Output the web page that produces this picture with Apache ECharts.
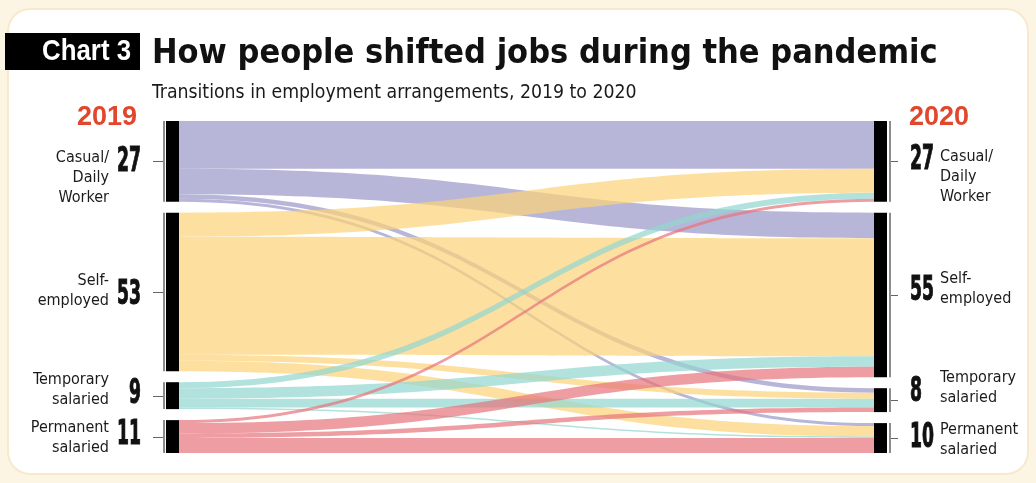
<!DOCTYPE html>
<html><head><meta charset="utf-8">
<script src="https://cdn.jsdelivr.net/npm/echarts@6/dist/echarts.min.js"></script>
<style>html,body{margin:0;padding:0;background:#fdf5e4;}#c{width:1036px;height:483px;}</style>
</head><body><div id="c"></div>
<script>
// ---- data ----
const categories = ['Casual/\nDaily\nWorker', 'Self-\nemployed', 'Temporary\nsalaried', 'Permanent\nsalaried'];
const years = ['2019', '2020'];
const share2019 = [27, 53, 9, 11];
const share2020 = [27, 55, 8, 10];
// flows from each 2019 category to 2020 categories (Casual, Self, Temporary, Permanent)
const fromCasual = [16, 8.5, 1.5, 1];
const fromSelf = [8, 39.5, 2, 3.5];
const fromTemporary = [2, 3.5, 3, 0.5];
const fromPermanent = [1, 3.5, 1.5, 5];
const flowRows = [fromCasual, fromSelf, fromTemporary, fromPermanent];
const flowColors = ['#9a97c7', '#fcd377', '#92d6ce', '#e7737a'];

const COND = '"DejaVu Sans Condensed","DejaVu Sans",sans-serif';
const SANS = '"Liberation Sans","DejaVu Sans",sans-serif';

const nameMap = {};
categories.forEach((c, i) => { nameMap['a' + i] = c; nameMap['b' + i] = c; });

const numOffsetL = [0, 2, -2, -2];
const numOffsetR = [-2, -5, -9, -1];
const nameOffsetL = [[0, 16], [0, -1], [0, -6], [0, 1]];
const nameOffsetR = [[0, 15], [0, -6], [0, -12], [0, 2]];

function makeNodes() {
  const arr = [];
  categories.forEach((c, i) => arr.push({ name: 'a' + i, label: { position: 'left', distance: 54, offset: nameOffsetL[i] } }));
  categories.forEach((c, i) => arr.push({ name: 'b' + i, label: { position: 'right', distance: 49, offset: nameOffsetR[i] } }));
  return arr;
}
function makeLinks(visible) {
  const arr = [];
  flowRows.forEach((row, i) => {
    row.forEach((v, j) => {
      arr.push({ source: 'a' + i, target: 'b' + j, value: v,
        lineStyle: visible ? { color: flowColors[i], opacity: 0.7 } : { color: 'rgba(0,0,0,0)', opacity: 0 } });
    });
  });
  return arr;
}

const chart = echarts.init(document.getElementById('c'), null, { renderer: 'canvas' });

const baseGraphics = [
  { type: 'rect', z: -10, shape: { x: 8, y: 9, width: 1020, height: 465, r: 22 },
    style: { fill: '#ffffff', stroke: '#f8e9cc', lineWidth: 2 } },
  { type: 'rect', shape: { x: 5, y: 33, width: 135, height: 37 }, style: { fill: '#000' } },
  { type: 'text', x: 131, y: 52, scaleX: 0.86, style: { text: 'Chart 3', fill: '#fff', font: 'bold 30px ' + SANS, textAlign: 'right', textVerticalAlign: 'middle' } }
];

const option = {
  animation: false,
  backgroundColor: 'transparent',
  title: [
    { text: 'How people shifted jobs during the pandemic', left: 152, top: 37, padding: 0,
      textStyle: { fontFamily: COND, fontWeight: 'bold', fontSize: 34, color: '#111' } },
    { text: 'Transitions in employment arrangements, 2019 to 2020', left: 152, top: 83, padding: 0,
      textStyle: { fontFamily: COND, fontWeight: 'normal', fontSize: 19.3, color: '#1a1a1a' } },
    { text: years[0], left: 77, top: 104, padding: 0,
      textStyle: { fontFamily: SANS, fontWeight: 'bold', fontSize: 27, color: '#e2472d' } },
    { text: years[1], left: 909, top: 104, padding: 0,
      textStyle: { fontFamily: SANS, fontWeight: 'bold', fontSize: 27, color: '#e2472d' } }
  ],
  graphic: { elements: baseGraphics.slice() },
  series: [
    { type: 'sankey', left: 163, right: 145, top: 121, bottom: 30, nodeWidth: 2, nodeGap: 11,
      layoutIterations: 0, draggable: false, silent: true, emphasis: { disabled: true },
      itemStyle: { color: '#8c8c8c', borderWidth: 0 },
      lineStyle: { color: 'rgba(0,0,0,0)', opacity: 0 },
      label: { show: true, formatter: p => nameMap[p.name], fontFamily: COND, fontSize: 16, lineHeight: 20, color: '#1b1b1b' },
      data: makeNodes(), links: makeLinks(false) },
    { type: 'sankey', left: 166, right: 149, top: 121, bottom: 30, nodeWidth: 13, nodeGap: 11,
      layoutIterations: 0, draggable: false, silent: true, emphasis: { disabled: true },
      itemStyle: { color: '#000', borderWidth: 0 },
      lineStyle: { curveness: 0.5 },
      label: { show: false },
      data: makeNodes().map(n => ({ name: n.name })), links: makeLinks(true) }
  ]
};

chart.setOption(option);

// ticks and share numbers placed from the library's own node layout
try {
  const extra = [];
  const smLine = chart.getModel().getSeriesByIndex(0);
  const infoL = smLine.layoutInfo;
  smLine.getGraph().eachNode(n => {
    const l = n.getLayout();
    const cy = Math.round(infoL.y + l.y + l.dy / 2) + 0.5;
    const isLeft = String(n.id).charAt(0) === 'a';
    const x0 = infoL.x + l.x, x1 = infoL.x + l.x + l.dx;
    extra.push({ type: 'line', shape: isLeft ? { x1: x0 - 10, y1: cy, x2: x0, y2: cy } : { x1: x1, y1: cy, x2: x1 + 7, y2: cy },
      style: { stroke: '#666', lineWidth: 1 } });
  });
  const smBar = chart.getModel().getSeriesByIndex(1);
  const infoB = smBar.layoutInfo;
  smBar.getGraph().eachNode(n => {
    const l = n.getLayout();
    const id = String(n.id);
    const isLeft = id.charAt(0) === 'a';
    const i = +id.slice(1);
    const cy = infoB.y + l.y + l.dy / 2 + (isLeft ? numOffsetL[i] : numOffsetR[i]) + 1;
    extra.push({ type: 'text', x: isLeft ? infoB.x + l.x - 25 : infoB.x + l.x + l.dx + 23, y: cy, scaleX: 0.58,
      style: { text: String(isLeft ? share2019[i] : share2020[i]), fill: '#111', stroke: '#111', lineWidth: 1.0,
        font: 'bold 33px ' + COND, textAlign: isLeft ? 'right' : 'left', textVerticalAlign: 'middle' } });
  });
  option.graphic = { elements: baseGraphics.concat(extra) };
  chart.setOption(option, true);
} catch (e) { console.log(e); }
</script></body></html>
